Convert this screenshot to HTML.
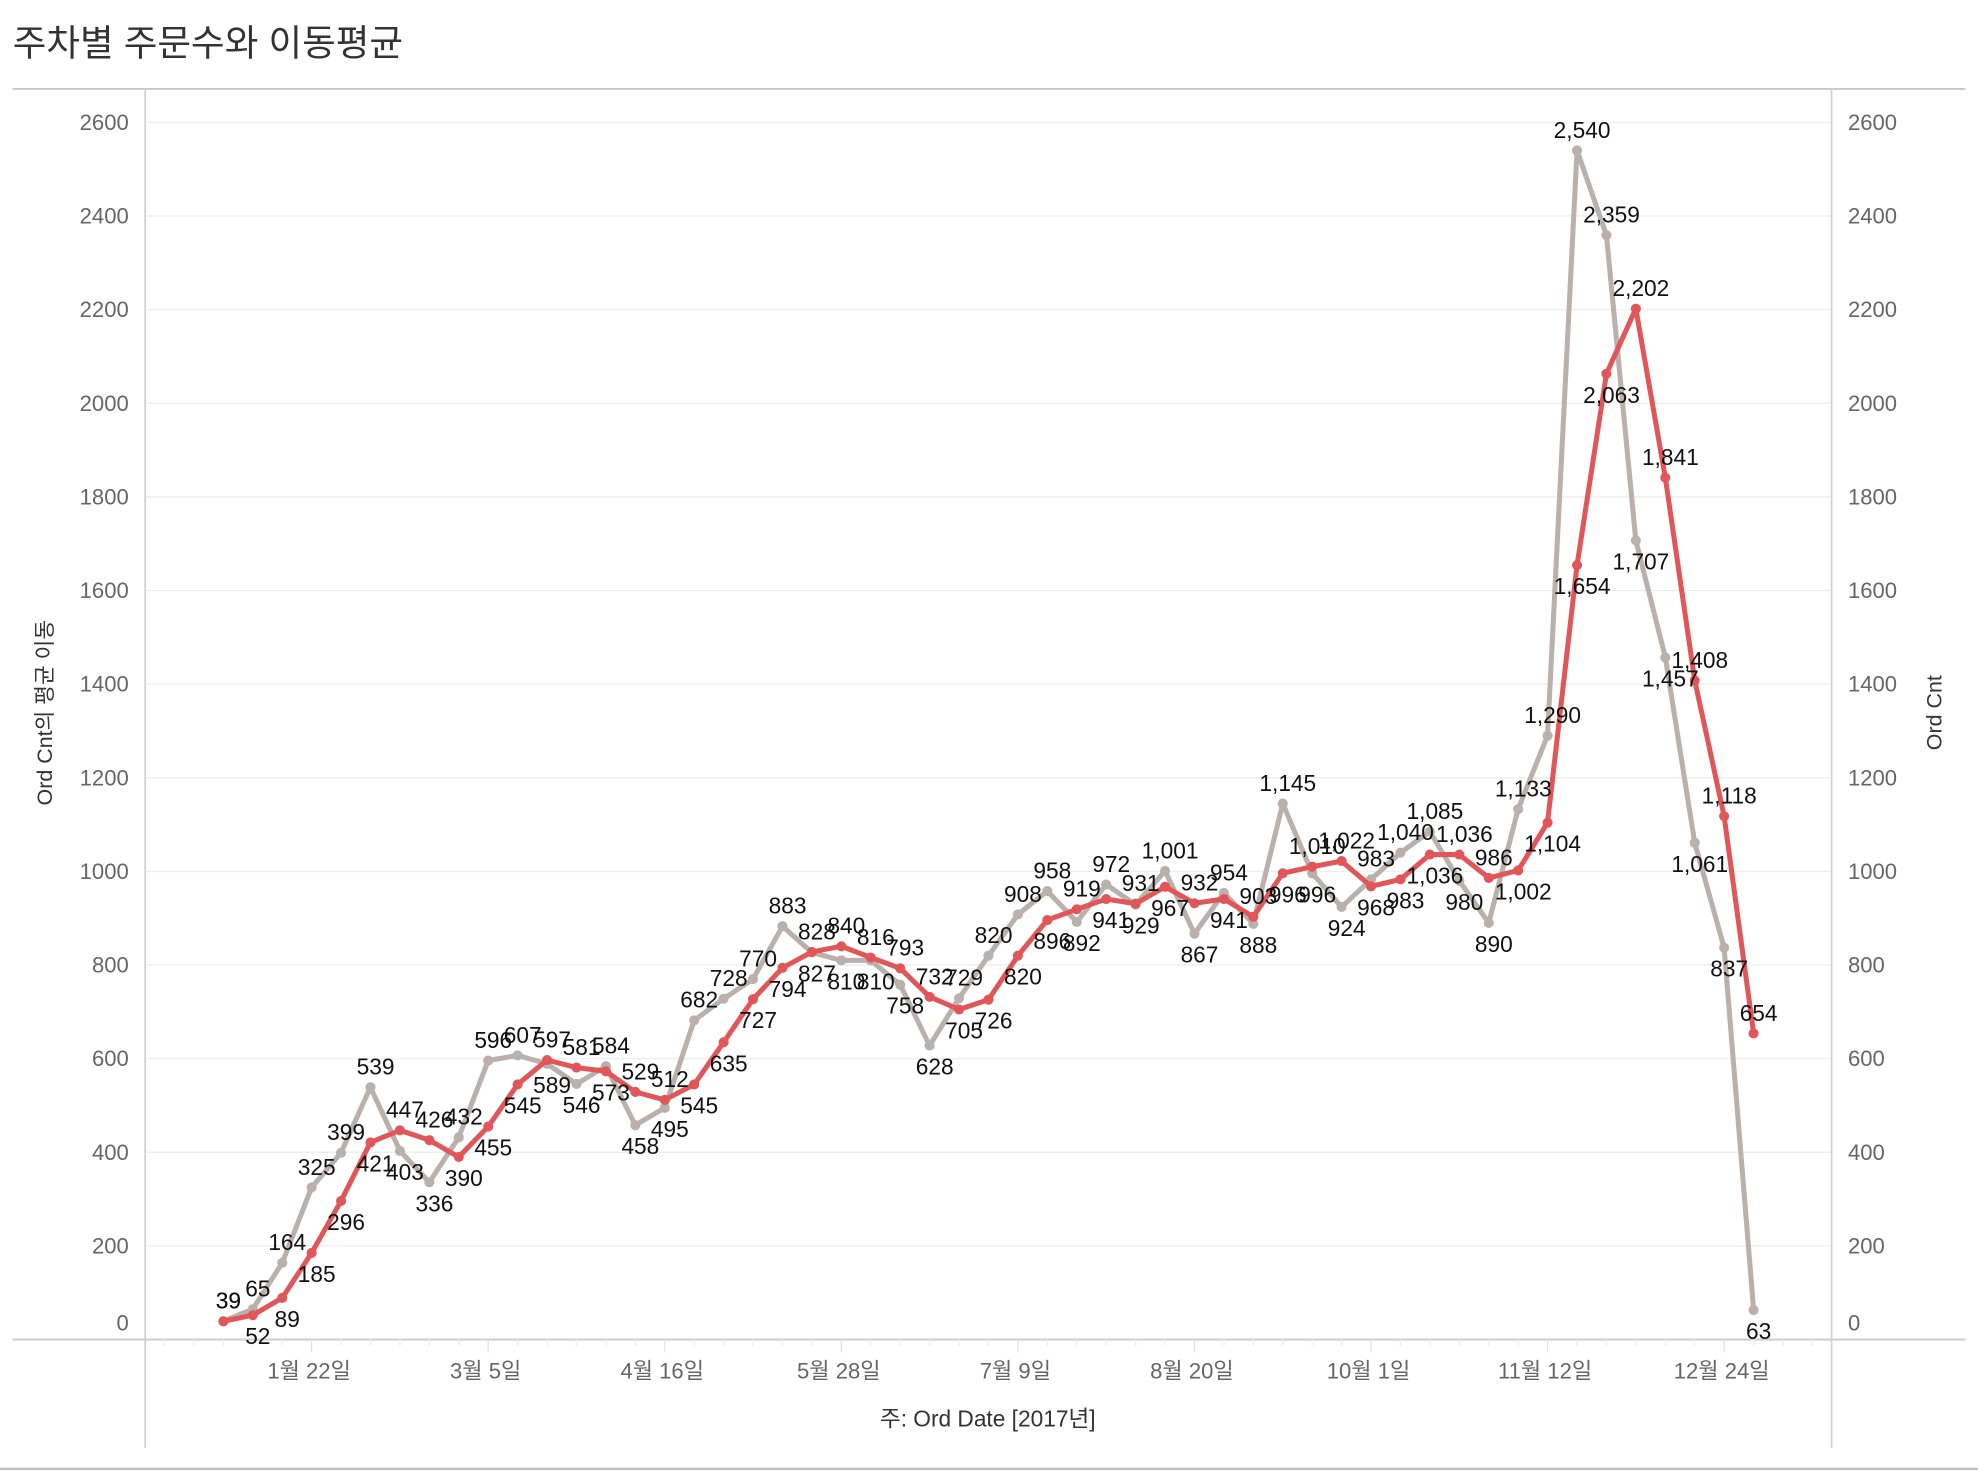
<!DOCTYPE html>
<html><head><meta charset="utf-8"><style>
html,body{margin:0;padding:0;background:#fff;}
svg{display:block;font-family:"Liberation Sans","Noto Sans CJK KR",sans-serif;}
</style></head><body>
<svg id="chart" width="1978" height="1472" viewBox="0 0 1568 1167" xmlns="http://www.w3.org/2000/svg">
<text x="10" y="44" font-size="29" fill="#333">주차별 주문수와 이동평균</text>
<g id="frame"></g>
<g id="grid"></g>
<g id="axes"></g>
<g id="series"></g>
<g id="labels"></g>
</svg>
<script>
const weekCount = 53;
const weeklyOrders = [39,65,164,325,399,539,403,336,432,596,607,589,546,584,458,495,682,728,770,883,827,810,810,758,628,729,820,908,958,892,972,929,1001,867,954,888,1145,996,924,983,1040,1085,980,890,1133,1290,2540,2359,1707,1457,1061,837,63];
const movingAvg = [39,52,89,185,296,421,447,426,390,455,545,597,581,573,529,512,545,635,727,794,828,840,816,793,732,705,726,820,896,919,941,931,967,932,941,903,996,1010,1022,968,983,1036,1036,986,1002,1104,1654,2063,2202,1841,1408,1118,654];
const yTicks = [0,200,400,600,800,1000,1200,1400,1600,1800,2000,2200,2400,2600];
const xTickWeeks = [3,9,15,21,27,33,39,45,51];
const xTickLabels = ["1월 22일","3월 5일","4월 16일","5월 28일","7월 9일","8월 20일","10월 1일","11월 12일","12월 24일"];

const NS = "http://www.w3.org/2000/svg";
const L = 115, R = 1452, Y0 = 1062, Y2600 = 97;
function xScale(i){ return 177 + i * 23.33; }
function yScale(v){ return Y0 - (v / 2600) * (Y0 - Y2600); }
function mk(tag, attrs, parent){
  const e = document.createElementNS(NS, tag);
  for (const k in attrs) e.setAttribute(k, attrs[k]);
  parent.appendChild(e);
  return e;
}
function fmt(v){ return v.toLocaleString('en-US'); }

const frame = document.getElementById('frame');
let e;
e = mk('line',{x1:10,y1:70.5,x2:1558,y2:70.5,stroke:'#c8c8c8','stroke-width':1.5},frame);


e = mk('line',{x1:0,y1:1164.5,x2:1568,y2:1164.5,stroke:'#c0c0c0','stroke-width':2},frame);



const grid = document.getElementById('grid');
const axes = document.getElementById('axes');
yTicks.forEach(v => {
  const y = yScale(v);
  if (v > 0) {
    const g = mk('line',{x1:L,y1:y,x2:R,y2:y,stroke:'#efefef','stroke-width':1.2},grid);
    
    
  }
  const ty = v === 0 ? 1055 : y + 6;
  const t1 = mk('text',{x:102,y:ty,'text-anchor':'end','font-size':17.5,fill:'#666'},axes);
  t1.textContent = v;
  
  
  const t2 = mk('text',{x:1465,y:ty,'text-anchor':'start','font-size':17.5,fill:'#666'},axes);
  t2.textContent = v;
  
  
});
e = mk('line',{x1:L,y1:70,x2:L,y2:1148,stroke:'#cfcfcf','stroke-width':1.3},axes);


e = mk('line',{x1:R,y1:70,x2:R,y2:1148,stroke:'#cfcfcf','stroke-width':1.3},axes);


e = mk('line',{x1:10,y1:Y0,x2:1558,y2:Y0,stroke:'#cfcfcf','stroke-width':1.6},axes);


for (let i = -3; i < weekCount + 3; i++) {
  const x = xScale(i);
  if (x < L + 2 || x > R - 2) continue;
  const major = xTickWeeks.includes(i);
  const tk = mk('line',{x1:x,y1:Y0,x2:x,y2:Y0 + (major ? 10 : 5),stroke:major ? '#e2e2e2' : '#eeeeee','stroke-width':1},axes);
  
  
}
xTickWeeks.forEach((w, k) => {
  const t = mk('text',{x:xScale(w) - 2,y:1093,'text-anchor':'middle','font-size':17.5,fill:'#666'},axes);
  t.textContent = xTickLabels[k];
  
  
});
e = mk('text',{x:783,y:1131,'text-anchor':'middle','font-size':18,fill:'#333'},axes);
e.textContent = '주: Ord Date [2017년]';


e = mk('text',{x:0,y:0,'text-anchor':'middle','font-size':17,fill:'#333',transform:'translate(41,565) rotate(-90)'},axes);
e.textContent = 'Ord Cnt의 평균 이동';


e = mk('text',{x:0,y:0,'text-anchor':'middle','font-size':17,fill:'#333',transform:'translate(1539,565) rotate(-90)'},axes);
e.textContent = 'Ord Cnt';



const series = document.getElementById('series');
function drawSeries(vals, color, name){
  const pts = vals.map((v,i) => xScale(i).toFixed(1) + ',' + yScale(v).toFixed(1)).join(' ');
  const pl = mk('polyline',{points:pts,fill:'none',stroke:color,'stroke-width':4,'stroke-linejoin':'round'},series);
  
  
  vals.forEach((v,i) => {
    const c = mk('circle',{cx:xScale(i),cy:yScale(v),r:4,fill:color},series);
    
    
  });
}
drawSeries(weeklyOrders,'#bab0ac','weekly-orders');
drawSeries(movingAvg,'#e15759','moving-average');

const labels = document.getElementById('labels');
function drawLabels(vals, other, name){
  vals.forEach((v,i) => {
    const above = v >= other[i];
    const y = above ? yScale(v) - 10 : yScale(v) + 23;
    const t = mk('text',{x:xScale(i) + 4,y:y,'text-anchor':'middle','font-size':18,fill:'#111'},labels);
    t.textContent = fmt(v);
    
    
  });
}
drawLabels(weeklyOrders, movingAvg, 'weekly-orders');
drawLabels(movingAvg, weeklyOrders, 'moving-average');
</script>
</body></html>
